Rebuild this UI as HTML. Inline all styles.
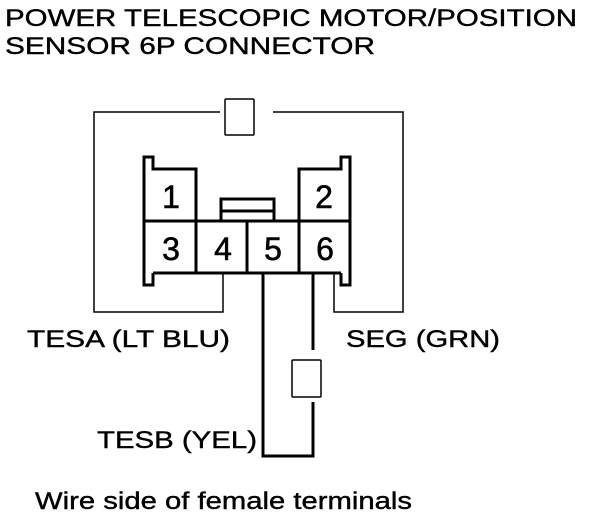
<!DOCTYPE html>
<html><head><style>html,body{margin:0;padding:0;background:#fff;}svg{display:block}</style></head>
<body>
<svg width="608" height="522" xmlns="http://www.w3.org/2000/svg" font-family="Liberation Sans, Arial, sans-serif">
<g fill="#000" font-size="24" stroke="#000" stroke-width="0.4">
<text x="5" y="26" textLength="572" lengthAdjust="spacingAndGlyphs">POWER TELESCOPIC MOTOR/POSITION</text>
<text x="5" y="54" textLength="370" lengthAdjust="spacingAndGlyphs">SENSOR 6P CONNECTOR</text>
<text x="27" y="347" textLength="203" lengthAdjust="spacingAndGlyphs">TESA (LT BLU)</text>
<text x="346" y="347" textLength="154" lengthAdjust="spacingAndGlyphs">SEG (GRN)</text>
<text x="97" y="448" textLength="160" lengthAdjust="spacingAndGlyphs">TESB (YEL)</text>
<text x="35" y="509" textLength="377" lengthAdjust="spacingAndGlyphs">Wire side of female terminals</text>
</g>
<g fill="none" stroke="#000" stroke-width="1.5">
<polyline points="220,112 94,112 94,312 223,312 223,273"/>
<polyline points="273,112 403,112 403,312 334,312 334,273"/>
<rect x="225" y="99" width="29" height="36" rx="1"/>
<rect x="292" y="360" width="29" height="37" rx="1"/>
</g>
<g fill="none" stroke="#000" stroke-width="3">
<polyline points="263,273 263,456 313,456 313,402"/>
<line x1="313" y1="273" x2="313" y2="350"/>
<polyline points="153,273 153,285 144,285 144,157 153,157 153,169 196,169 196,221"/>
<polyline points="341,273 341,285 350,285 350,157 341,157 341,169 299,169 299,221"/>
<line x1="144" y1="221" x2="350" y2="221"/>
<line x1="153" y1="273" x2="341" y2="273"/>
<line x1="196" y1="221" x2="196" y2="273"/>
<line x1="247" y1="221" x2="247" y2="273"/>
<line x1="299" y1="221" x2="299" y2="273"/>
<polyline points="221,221 221,199 274,199 274,221"/>
<line x1="221" y1="211" x2="274" y2="211"/>
</g>
<g fill="#000" font-size="32" text-anchor="middle" stroke="#000" stroke-width="0.6">
<text x="171" y="208">1</text>
<text x="324" y="208">2</text>
<text x="171" y="260">3</text>
<text x="223" y="260">4</text>
<text x="273" y="260">5</text>
<text x="325" y="260">6</text>
</g>
</svg>
</body></html>
